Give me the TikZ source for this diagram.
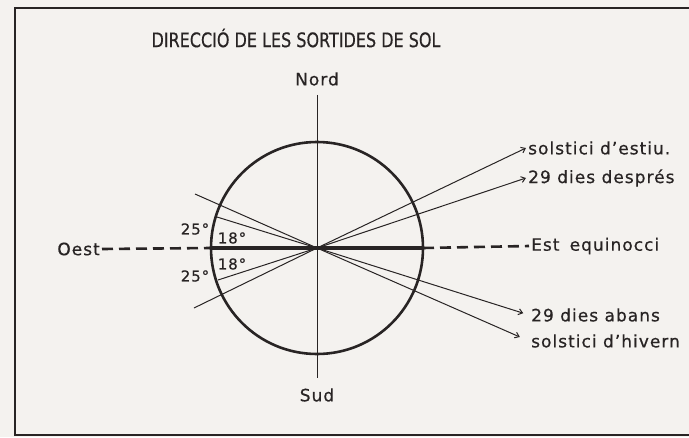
\documentclass[tikz,border=0pt]{standalone}
\usepackage{fontspec}
\setmainfont{DejaVu Sans}[LetterSpace=6, FakeBold=0.6]
\newfontfamily\titlefont{DejaVu Sans}[FakeBold=0.5]
\usetikzlibrary{arrows.meta,calc}

\definecolor{paper}{RGB}{244,242,239}
\definecolor{ink}{RGB}{40,36,36}

\tikzset{
  lbl/.style={font=\fontsize{17}{20}\selectfont, text=ink, inner sep=2pt},
  deglbl/.style={font=\fontsize{15}{18}\selectfont, text=ink, inner sep=0pt},
  ray/.style={ink, line width=1pt},
  ray arrow/.style={ray, -{Straight Barb[length=4pt,width=6pt]}},
  heavy/.style={ink, line width=2.6pt},
  dashline/.style={ink, line width=2.6pt, dash pattern=on 11pt off 6pt},
}

\begin{document}
\begin{tikzpicture}[x=1pt, y=-1pt]
  \clip (0,0) rectangle (689,437);
  \fill[paper] (0,0) rectangle (689,437);
  \draw[ink, line width=2.5pt] (15,8) rectangle (720,435);

  % title
  \node[lbl, font=\titlefont\fontsize{16}{19}\selectfont] (title) at (296,38)
    {\scalebox{1}[1.25]{DIRECCIÓ DE LES SORTIDES DE SOL}};

  % compass points
  \coordinate (c) at (317,248);
  \coordinate (w) at (211,248);
  \coordinate (e) at (423,248);
  \node[lbl] (nord) at (317,79) {Nord};
  \node[lbl] (sud) at (317,395) {Sud};
  \node[lbl, anchor=east] (oest) at (102,249) {Oest};
  \node[lbl, anchor=west] (est) at (529,246) {Est\hspace{0.6em}equinocci};

  \draw[ray] ($(nord.south)+(0,7)$) -- ($(sud.north)+(0,-8)$);
  \draw[heavy] (c) circle[radius=106pt];
  \draw[ink, line width=3.2pt] (w) -- (e);
  \draw[dashline] (oest.east) -- (w);
  \draw[dashline] (e) -- (est.west);

  % sunrise directions, east side
  \node[lbl, anchor=west] (estiu) at (526,148) {solstici d'estiu.};
  \node[lbl, anchor=west] (despres) at (526,178) {29 dies després};
  \node[lbl, anchor=west] (abans) at (529,315) {29 dies abans};
  \node[lbl, anchor=west] (hivern) at (529,341) {solstici d'hivern};

  \draw[ray arrow] (c) -- (estiu.west);
  \draw[ray arrow] (c) -- (despres.west);
  \draw[ray arrow, shorten >=6pt] (c) -- (abans.west);
  \draw[ray arrow, shorten >=10pt] (c) -- (hivern.west);

  % west side, angles
  \coordinate (nwa) at (195,194);
  \coordinate (nwb) at (217,217);
  \coordinate (swb) at (218,280);
  \coordinate (swa) at (194,308);
  \draw[ray] (c) -- (nwa);
  \draw[ray] (c) -- (nwb);
  \draw[ray] (c) -- (swb);
  \draw[ray] (c) -- (swa);

  \node[deglbl] (dega) at (195,229) {25°};
  \node[deglbl] (degb) at (232,238) {18°};
  \node[deglbl] (degc) at (232,264) {18°};
  \node[deglbl] (degd) at (195,276) {25°};
\end{tikzpicture}
\end{document}
